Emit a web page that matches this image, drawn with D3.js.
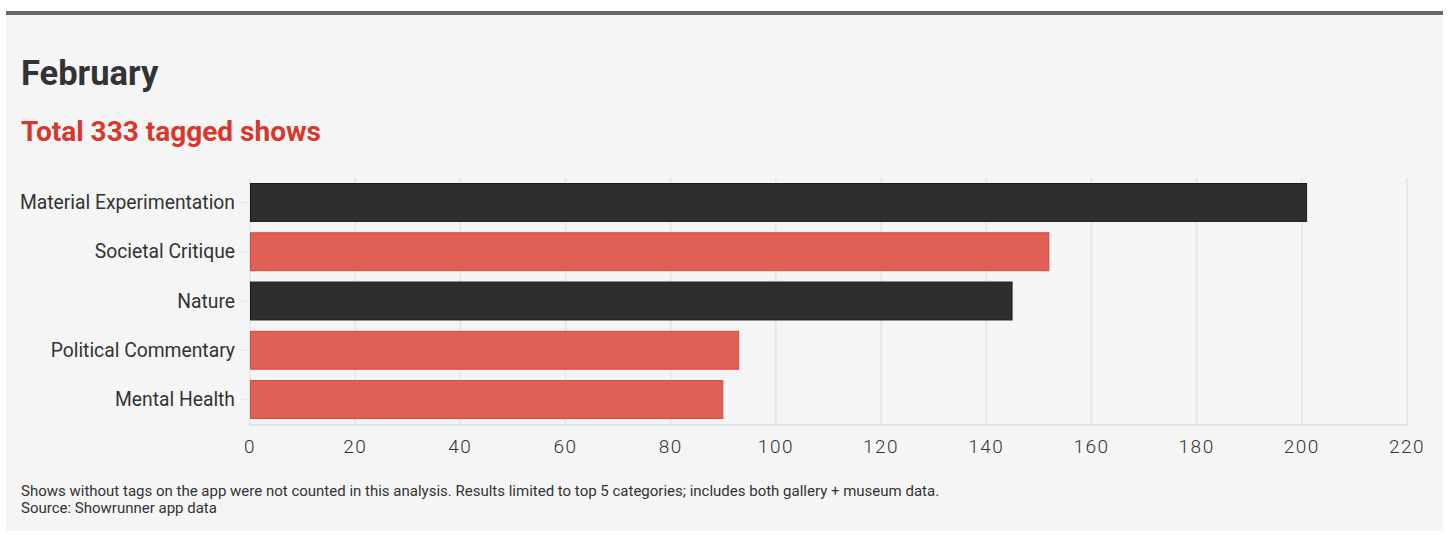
<!DOCTYPE html>
<html>
<head>
<meta charset="utf-8">
<script src="https://cdn.jsdelivr.net/npm/d3@7"></script>
<style>
    body { margin: 0; background: #fff; }
    text { font-family: Roboto, "Noto Sans", sans-serif; }
</style>
</head>
<body>
<div id="chart"></div>
<script>
// chart data
let categories = ["Material Experimentation", "Societal Critique", "Nature", "Political Commentary", "Mental Health"];
let counts = [201, 152, 145, 93, 90];
let barColors = ["dark", "red", "dark", "red", "red"];
let xTicks = [0, 20, 40, 60, 80, 100, 120, 140, 160, 180, 200, 220];

let title = "February";
let subtitle = "Total 333 tagged shows";
let notes = [
    "Shows without tags on the app were not counted in this analysis. Results limited to top 5 categories; includes both gallery + museum data.",
    "Source: Showrunner app data"
];

let palette = {
    dark: { fill: "#2e2e2e", stroke: "#1c1c1c" },
    red: { fill: "#e06055", stroke: "#d9493d" }
};

let width = 1456, height = 544;
let margin = { top: 178, right: 49, bottom: 119, left: 250 };

let svg = d3.select("#chart").append("svg")
    .attr("width", width)
    .attr("height", height);

// panel
svg.append("rect")
    .attr("x", 6).attr("y", 14)
    .attr("width", 1437).attr("height", 517)
    .attr("fill", "#f5f5f5");

svg.append("rect")
    .attr("x", 6).attr("y", 11)
    .attr("width", 1437).attr("height", 4)
    .attr("fill", "#666");

svg.append("text")
    .attr("x", 21).attr("y", 85)
    .attr("font-size", 34.5)
    .attr("font-weight", 700)
    .attr("fill", "#333")
    .text(title);

svg.append("text")
    .attr("x", 21).attr("y", 141)
    .attr("font-size", 28)
    .attr("font-weight", 700)
    .attr("fill", "#d9372b")
    .text(subtitle);

let data = categories.map(function(c, i) {
    return { name: c, value: counts[i], color: barColors[i] };
});

let x = d3.scaleLinear()
    .domain([0, 220])
    .range([margin.left, width - margin.right]);

let y = d3.scaleBand()
    .domain(categories)
    .range([183, 419])
    .paddingInner(0.21)
    .paddingOuter(0);

// grid lines
svg.append("g")
    .selectAll("line")
    .data(xTicks)
    .enter()
    .append("line")
    .attr("x1", function(d) { return x(d) })
    .attr("x2", function(d) { return x(d) })
    .attr("y1", margin.top)
    .attr("y2", 425)
    .attr("stroke", "#e8e8e8")
    .attr("stroke-width", 2);

// baseline
svg.append("line")
    .attr("x1", x(0) - 1).attr("x2", x(220) + 1)
    .attr("y1", 425).attr("y2", 425)
    .attr("stroke", "#e4e4e4")
    .attr("stroke-width", 2);

// x axis labels
svg.append("g")
    .selectAll("text")
    .data(xTicks)
    .enter()
    .append("text")
    .attr("x", function(d) { return x(d) })
    .attr("y", 453)
    .attr("text-anchor", "middle")
    .attr("font-size", 19)
    .attr("font-weight", 300)
    .attr("letter-spacing", 1.5)
    .attr("fill", "#333")
    .text(function(d) { return d });

// bars
svg.append("g")
    .selectAll("rect")
    .data(data)
    .enter()
    .append("rect")
    .attr("x", x(0) + 0.5)
    .attr("y", function(d) { return y(d.name) + 0.5 })
    .attr("width", function(d) { return x(d.value) - x(0) - 1 })
    .attr("height", y.bandwidth() - 1)
    .attr("fill", function(d) { return palette[d.color].fill })
    .attr("stroke", function(d) { return palette[d.color].stroke })
    .attr("stroke-width", 1);

// y tick marks + labels
let yTick = svg.append("g")
    .selectAll("g")
    .data(data)
    .enter()
    .append("g")
    .attr("transform", function(d) { return "translate(0," + (y(d.name) + y.bandwidth() / 2) + ")" });

yTick.append("line")
    .attr("x1", 240).attr("x2", 247)
    .attr("stroke", "#e8e8e8")
    .attr("stroke-width", 1.5);

yTick.append("text")
    .attr("x", 235)
    .attr("dy", "0.35em")
    .attr("text-anchor", "end")
    .attr("font-size", 19.3)
    .attr("fill", "#333")
    .text(function(d) { return d.name });

// notes
svg.append("g")
    .selectAll("text")
    .data(notes)
    .enter()
    .append("text")
    .attr("x", 21)
    .attr("y", function(d, i) { return 496 + i * 17 })
    .attr("font-size", 15)
    .attr("fill", "#333")
    .text(function(d) { return d });
</script>
</body>
</html>
